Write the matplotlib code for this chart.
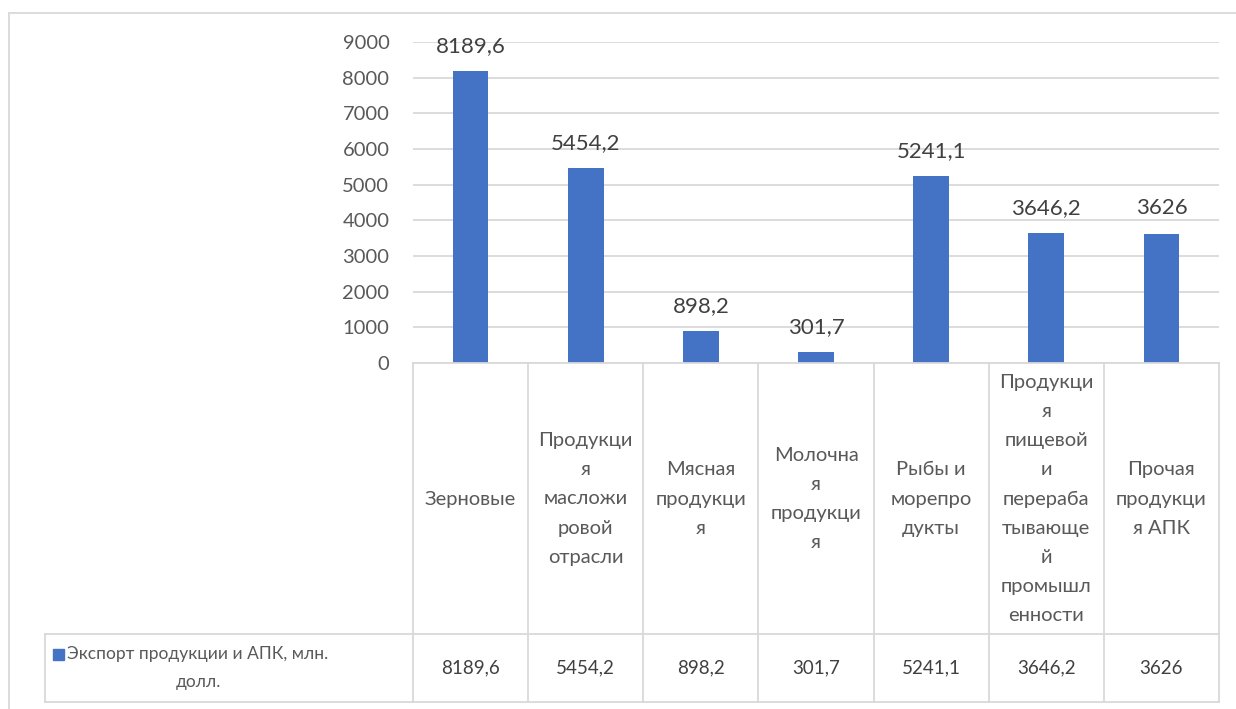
import matplotlib
matplotlib.use("Agg")
import matplotlib.pyplot as plt
from matplotlib.transforms import blended_transform_factory
from matplotlib.patches import Rectangle
from matplotlib.lines import Line2D

plt.rcParams['font.family'] = ['Lato', 'DejaVu Sans']

# ---- data ----
categories = ["Зерновые",
              "Продукци\nя\nмасложи\nровой\nотрасли",
              "Мясная\nпродукци\nя",
              "Молочна\nя\nпродукци\nя",
              "Рыбы и\nморепро\nдукты",
              "Продукци\nя\nпищевой\nи\nперераба\nтывающе\nй\nпромышл\nенности",
              "Прочая\nпродукци\nя АПК"]
values = [8189.6, 5454.2, 898.2, 301.7, 5241.1, 3646.2, 3626]
series_name = "Экспорт продукции и АПК, млн.\nдолл."
yticks = [0, 1000, 2000, 3000, 4000, 5000, 6000, 7000, 8000, 9000]

W, H = 1236, 709
BAR = "#4472C4"
GRID = "#D9D9D9"
TXT = "#595959"
LBL = "#404040"
FS_TICK = 14.5
FS_LBL = 16
FS_CAT = 14.5
FS_VAL = 13.5
FS_LEG = 12.5

def fmt(v):
    s = f"{v:.1f}"
    if s.endswith(".0"):
        s = s[:-2]
    return s.replace(".", ",")

fig = plt.figure(figsize=(W / 100, H / 100), dpi=100)

def fx(px):
    return px / W

def fy(py):
    return (H - py) / H

ax_l, ax_r, ax_t, ax_b = 413, 1219, 42, 363
ax = fig.add_axes([fx(ax_l), fy(ax_b), fx(ax_r) - fx(ax_l), fy(ax_t) - fy(ax_b)])
x = list(range(len(values)))
ax.bar(x, values, width=0.31, color=BAR, zorder=3)
ax.set_xlim(-0.5, len(values) - 0.5)
ax.set_ylim(0, 9000)
ax.set_yticks(yticks)
ax.set_yticklabels([str(t) for t in yticks], fontsize=FS_TICK, color=TXT)
ax.tick_params(axis='y', length=0, pad=17)
ax.tick_params(axis='x', length=0, labelbottom=False)
ax.grid(axis='y', color=GRID, lw=1.3, zorder=0)
for s in ax.spines.values():
    s.set_visible(False)

for xi, v in zip(x, values):
    ax.annotate(fmt(v), (xi, v), xytext=(0, 11), textcoords='offset points',
                ha='center', va='bottom', fontsize=FS_LBL, color=LBL)

# ---- data table ----
bt = blended_transform_factory(ax.transData, fig.transFigure)
row1_top, row1_bot, row2_bot = 363, 634, 702
leg_left = 45
n = len(values)
line_kw = dict(color=GRID, lw=1.3, clip_on=False)
fig.add_artist(Line2D([fx(ax_l), fx(ax_r)], [fy(row1_top)] * 2, transform=fig.transFigure, **line_kw))
fig.add_artist(Line2D([fx(leg_left), fx(ax_r)], [fy(row1_bot)] * 2, transform=fig.transFigure, **line_kw))
fig.add_artist(Line2D([fx(leg_left), fx(ax_r)], [fy(row2_bot)] * 2, transform=fig.transFigure, **line_kw))
fig.add_artist(Line2D([fx(leg_left)] * 2, [fy(row1_bot), fy(row2_bot)], transform=fig.transFigure, **line_kw))
for i in range(n + 1):
    xb = i - 0.5
    fig.add_artist(Line2D([xb, xb], [fy(row1_top), fy(row2_bot)], transform=bt, **line_kw))

for xi, c, v in zip(x, categories, values):
    fig.text(xi, fy(499), c, transform=bt, ha='center', va='center',
             fontsize=FS_CAT, color=TXT, linespacing=1.87, multialignment='center')
    fig.text(xi, fy(668), fmt(v), transform=bt, ha='center', va='center',
             fontsize=FS_VAL, color=LBL)

fig.text(fx(198), fy(668), series_name, ha='center', va='center', fontsize=FS_LEG,
         color=TXT, linespacing=1.9, multialignment='center')
fig.add_artist(Rectangle((fx(53), fy(660)), fx(11), fy(649) - fy(660), color=BAR,
                         transform=fig.transFigure))

# outer chart border (top and left visible)
fig.add_artist(Line2D([fx(9), fx(1236)], [fy(13)] * 2, transform=fig.transFigure, color=GRID, lw=1.3))
fig.add_artist(Line2D([fx(9)] * 2, [fy(13), fy(709)], transform=fig.transFigure, color=GRID, lw=1.3))

fig.savefig("out.png", dpi=100, facecolor="white")
